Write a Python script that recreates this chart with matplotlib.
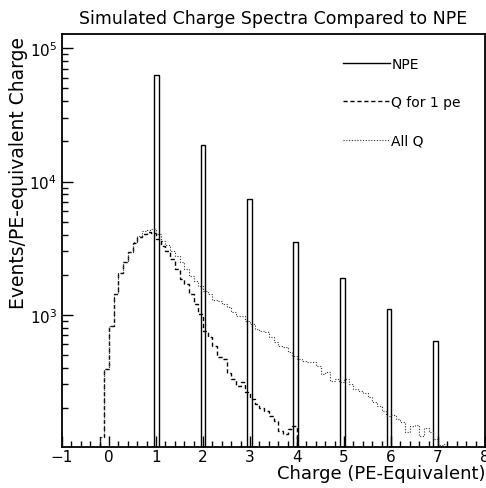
import numpy as np
import matplotlib
matplotlib.use("Agg")
import matplotlib.pyplot as plt
from matplotlib.ticker import LogLocator, MultipleLocator, NullFormatter

# NPE histogram: one narrow bin per integer photoelectron count
npe_x = [1.01, 2.0, 2.99, 3.97, 4.97, 5.96, 6.95]
npe_counts = [63000, 18800, 7330, 3530, 1890, 1100, 630]

# charge spectrum for single pe events, bins of 0.1 starting at -0.2
q1_start = -0.2
q1_counts = [120, 391, 827, 1430, 2055, 2500, 2940, 3450, 3810, 4040,
             4160, 4100, 3700, 3300, 3020, 2620, 2200, 1850, 1700, 1430,
             1200, 1010, 750, 680, 580, 480, 462, 365, 330, 293,
             310, 263, 233, 215, 200, 190, 175, 158, 135, 127,
             139, 147]

# charge spectrum for all events, same binning
qall_start = -0.2
qall_counts = [120, 391, 827, 1430, 2055, 2500, 2940, 3500, 3900, 4250,
               4350, 4400, 4040, 3600, 3340, 3020, 2770, 2470, 2200, 1960,
               1800, 1650, 1510, 1430, 1300, 1270, 1200, 1140, 1040, 970,
               975, 900, 850, 780, 760, 740, 680, 620, 585, 570,
               522, 492, 465, 452, 439, 444, 410, 358, 370, 320,
               330, 312, 330, 302, 277, 269, 258, 240, 220, 207,
               190, 173, 176, 165, 156, 131, 147, 149, 123, 141,
               131, 116, 105, 107]

bin_w = 0.1
q1_edges = q1_start + bin_w * np.arange(len(q1_counts) + 1)
qall_edges = qall_start + bin_w * np.arange(len(qall_counts) + 1)

plt.rcParams['font.family'] = ['DejaVu Sans']
fig = plt.figure(figsize=(4.86, 4.89), dpi=100)
ax = fig.add_axes([0.1276, 0.0838, 0.8704, 0.8446])

h_npe = ax.bar(npe_x, npe_counts, width=0.1, bottom=1, fill=False,
               edgecolor='black', linewidth=1.0, label='NPE')
h_q1 = ax.stairs(q1_counts, q1_edges, baseline=1, color='black',
                 linewidth=1.0, linestyle=(0, (3, 2)), label='Q for 1 pe')
h_qall = ax.stairs(qall_counts, qall_edges, baseline=1, color='#333333',
                   linewidth=0.8, linestyle=(0, (1, 1.5)), label='All Q')

ax.set_yscale('log')
ax.set_xlim(-1, 8)
ax.set_ylim(101.6, 1.28e5)

ax.xaxis.set_major_locator(MultipleLocator(1))
ax.xaxis.set_minor_locator(MultipleLocator(0.2))
ax.yaxis.set_major_locator(LogLocator(base=10))
ax.yaxis.set_minor_locator(LogLocator(base=10, subs=np.arange(2, 10)))
ax.yaxis.set_minor_formatter(NullFormatter())
ax.tick_params(which='both', direction='in', top=False, right=False,
               labelsize=11, width=1)
ax.tick_params(axis='x', pad=1.5)
ax.tick_params(which='major', length=8)
ax.tick_params(which='minor', length=4)
for s in ax.spines.values():
    s.set_linewidth(1.3)

ax.set_title('Simulated Charge Spectra Compared to NPE', fontsize=12.5, pad=8)
ax.set_xlabel('Charge (PE-Equivalent)', fontsize=13, ha='right', x=1.0,
              labelpad=0)
ax.set_ylabel('Events/PE-equivalent Charge', fontsize=13.5, ha='right', y=0.995,
              labelpad=1)

# legend lines with text after them, as in the original
line_npe = plt.Line2D([], [], color='black', linewidth=1.0)
ax.legend([line_npe, h_q1, h_qall], ['NPE', 'Q for 1 pe', 'All Q'],
          loc='upper left', bbox_to_anchor=(0.634, 0.975), frameon=False,
          fontsize=10, handlelength=3.4, handletextpad=0.1, labelspacing=1.75)

fig.savefig('out.png', dpi=100)
